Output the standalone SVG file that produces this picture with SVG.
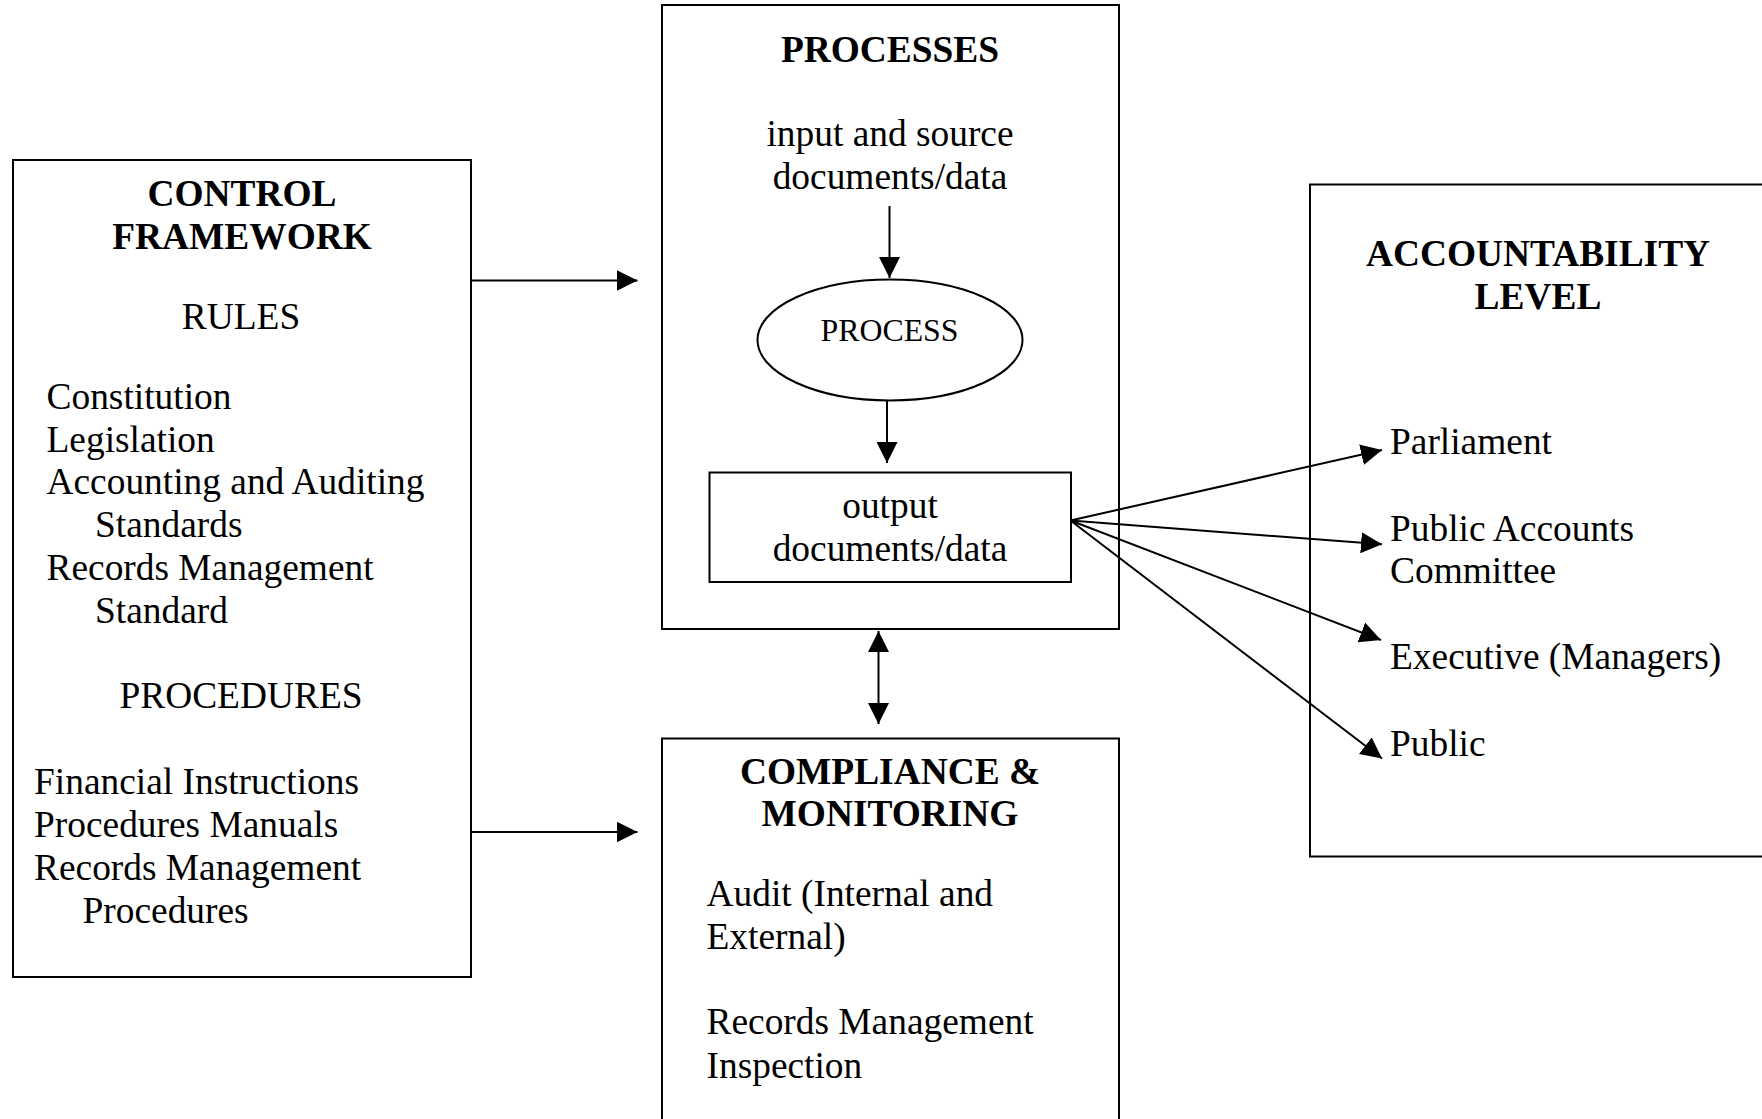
<svg xmlns="http://www.w3.org/2000/svg" width="1762" height="1119" viewBox="0 0 1762 1119">
<style>
  .box { fill: #fff; stroke: #000; stroke-width: 2; }
  .t { font-family: "Liberation Serif", "Times New Roman", serif; font-size: 37.4px; fill: #000; }
  .b { font-weight: bold; }
  .c { text-anchor: middle; }
  .small { font-size: 31.8px; }
  .conn line { stroke: #000; stroke-width: 2; }
</style>
<defs>
  <marker id="arr" markerUnits="userSpaceOnUse" markerWidth="21" markerHeight="21" refX="20" refY="10" orient="auto-start-reverse" viewBox="0 0 20 20">
    <path d="M0,0 L20,10 L0,20 z" fill="#000"/>
  </marker>
</defs>
<rect width="1762" height="1119" fill="#fff"/>

<g id="control-framework">
  <rect class="box" x="13" y="160" width="458" height="817"/>
  <text class="t b c" x="242" y="206">CONTROL</text>
  <text class="t b c" x="242" y="249">FRAMEWORK</text>
  <text class="t c" x="241" y="329">RULES</text>
  <text class="t" x="46.5" y="409">Constitution</text>
  <text class="t" x="46.5" y="452">Legislation</text>
  <text class="t" x="46.5" y="494">Accounting and Auditing</text>
  <text class="t" x="95" y="537">Standards</text>
  <text class="t" x="46.5" y="580">Records Management</text>
  <text class="t" x="95" y="623">Standard</text>
  <text class="t c" x="241" y="708">PROCEDURES</text>
  <text class="t" x="34" y="794">Financial Instructions</text>
  <text class="t" x="34" y="837">Procedures Manuals</text>
  <text class="t" x="34" y="880">Records Management</text>
  <text class="t" x="82.5" y="923">Procedures</text>
</g>

<g id="processes">
  <rect class="box" x="662" y="5" width="457" height="624"/>
  <text class="t b c" x="890" y="62">PROCESSES</text>
  <text class="t c" x="890" y="146">input and source</text>
  <text class="t c" x="890" y="189">documents/data</text>
</g>

<g id="process">
  <ellipse class="box" cx="890" cy="340" rx="132.5" ry="60.5"/>
  <text class="t small c" x="889.5" y="341">PROCESS</text>
</g>

<g id="output">
  <rect class="box" x="709.5" y="472.5" width="361.5" height="109.5"/>
  <text class="t c" x="890" y="517.5">output</text>
  <text class="t c" x="890" y="560.5">documents/data</text>
</g>

<g id="compliance">
  <rect class="box" x="662" y="738.5" width="457" height="400"/>
  <text class="t b c" x="890" y="784">COMPLIANCE &amp;</text>
  <text class="t b c" x="890" y="826">MONITORING</text>
  <text class="t" x="706.5" y="906">Audit (Internal and</text>
  <text class="t" x="706.5" y="949">External)</text>
  <text class="t" x="706.5" y="1034">Records Management</text>
  <text class="t" x="706.5" y="1077.5">Inspection</text>
</g>

<g id="accountability">
  <rect class="box" x="1310" y="184.5" width="470" height="672"/>
  <text class="t b c" x="1538" y="266">ACCOUNTABILITY</text>
  <text class="t b c" x="1538" y="309">LEVEL</text>
  <text class="t" x="1390" y="454">Parliament</text>
  <text class="t" x="1390" y="541">Public Accounts</text>
  <text class="t" x="1390" y="583">Committee</text>
  <text class="t" x="1390" y="669">Executive (Managers)</text>
  <text class="t" x="1390" y="756">Public</text>
</g>

<g id="connectors" class="conn">
  <line x1="471" y1="280.5" x2="637.5" y2="280.5" marker-end="url(#arr)"/>
  <line x1="471" y1="832" x2="637.5" y2="832" marker-end="url(#arr)"/>
  <line x1="889.5" y1="206" x2="889.5" y2="278" marker-end="url(#arr)"/>
  <line x1="887" y1="400.5" x2="887" y2="463" marker-end="url(#arr)"/>
  <line x1="878.5" y1="631" x2="878.5" y2="724" marker-start="url(#arr)" marker-end="url(#arr)"/>
  <line x1="1070.5" y1="520.5" x2="1382" y2="450" marker-end="url(#arr)"/>
  <line x1="1070.5" y1="520.5" x2="1382" y2="544.3" marker-end="url(#arr)"/>
  <line x1="1070.5" y1="520.5" x2="1381" y2="640" marker-end="url(#arr)"/>
  <line x1="1070.5" y1="520.5" x2="1382" y2="758.5" marker-end="url(#arr)"/>
</g>
</svg>
